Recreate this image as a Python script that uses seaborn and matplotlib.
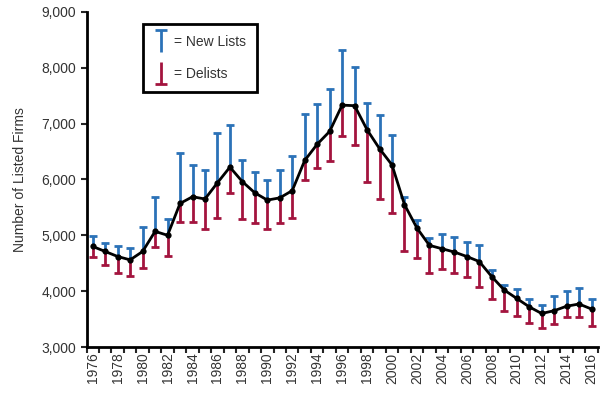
import numpy as np
import pandas as pd
import seaborn as sns
import matplotlib.pyplot as plt
from matplotlib.lines import Line2D
from matplotlib.path import Path
from matplotlib.ticker import FuncFormatter

years = list(range(1976, 2017))
listed = [4800, 4710, 4620, 4560, 4710, 5070, 5000, 5570, 5690, 5650,
          5940, 6220, 5960, 5760, 5630, 5670, 5800, 6340, 6630, 6860,
          7330, 7320, 6890, 6550, 6260, 5550, 5130, 4820, 4760, 4700,
          4620, 4530, 4260, 4020, 3870, 3720, 3600, 3650, 3730, 3770, 3680]
new_lists = [190, 160, 195, 220, 430, 620, 290, 900, 570, 520,
             900, 750, 380, 370, 355, 490, 620, 840, 720, 755,
             985, 690, 475, 595, 530, 140, 145, 140, 260, 265,
             260, 300, 110, 85, 165, 135, 150, 270, 275, 280, 175]
delists = [185, 245, 300, 290, 295, 275, 365, 325, 455, 545,
           635, 470, 675, 545, 510, 455, 495, 345, 420, 535,
           550, 700, 935, 905, 855, 830, 540, 490, 370, 380,
           365, 450, 395, 375, 315, 295, 265, 240, 185, 225, 300]

sns.set_style("ticks")
plt.rcParams['font.family'] = ['Liberation Sans', 'DejaVu Sans']
text_color = '#333333'

df = pd.DataFrame({'Year': years, 'Listed': listed,
                   'New': new_lists, 'Delists': delists})

blue = '#2b72b8'
red = '#a3143e'

fig = plt.figure(figsize=(6.05, 3.95), dpi=100)
ax = fig.add_axes([0.143, 0.1215, 0.845, 0.8485])

zeros = np.zeros(len(df))
eb = ax.errorbar(df['Year'], df['Listed'], yerr=[zeros, df['New']], fmt='none',
                 ecolor=blue, elinewidth=2, capsize=3, capthick=2)
eb[1][0].remove()  # drop cap sitting on the line
eb = ax.errorbar(df['Year'], df['Listed'], yerr=[df['Delists'], zeros], fmt='none',
                 ecolor=red, elinewidth=2, capsize=3, capthick=2)
eb[1][1].remove()

sns.lineplot(data=df, x='Year', y='Listed', ax=ax, color='black', linewidth=2,
             marker='o', markersize=4.5, markeredgewidth=0)

ax.set_xlim(1975.5, 2016.5)
ax.set_ylim(3000, 9000)
ax.set_xticks(np.arange(1975.5, 2017, 1))
ax.set_xticklabels([])
ax.set_xticks([y for y in years if y % 2 == 0], minor=True)
ax.set_xticklabels([str(y) for y in years if y % 2 == 0], minor=True,
                   rotation=90, fontsize=10, color=text_color)
ax.tick_params(axis='x', which='major', length=4, width=1.5, direction='out')
ax.tick_params(axis='x', which='minor', length=0, pad=4)
ax.set_yticks(range(3000, 9001, 1000))
ax.yaxis.set_major_formatter(FuncFormatter(lambda v, p: f'{int(v):,}'))
ax.tick_params(axis='y', length=4, width=1.5, direction='out',
               labelsize=10, labelcolor=text_color)
ax.set_xlabel('')
ax.set_ylabel('Number of Listed Firms', fontsize=10, color=text_color, labelpad=10)

sns.despine(ax=ax)
for s in ['left', 'bottom']:
    ax.spines[s].set_linewidth(2)
    ax.spines[s].set_color('black')

# legend glyphs: T for new lists, inverted T for delists
t_path = Path([(-0.5, 1), (0.5, 1), (0, 1), (0, -1)],
              [Path.MOVETO, Path.LINETO, Path.MOVETO, Path.LINETO])
b_path = Path([(-0.5, -1), (0.5, -1), (0, -1), (0, 1)],
              [Path.MOVETO, Path.LINETO, Path.MOVETO, Path.LINETO])
handles = [
    Line2D([], [], linestyle='None', marker=t_path, markersize=16,
           markeredgecolor=blue, markerfacecolor='none', markeredgewidth=2),
    Line2D([], [], linestyle='None', marker=b_path, markersize=16,
           markeredgecolor=red, markerfacecolor='none', markeredgewidth=2),
]
leg = ax.legend(handles, ['= New Lists', '= Delists'], loc='upper left',
                bbox_to_anchor=(0.11, 0.964), borderaxespad=0, fancybox=False,
                framealpha=1, edgecolor='black', fontsize=10, numpoints=1,
                handlelength=1.0, labelspacing=1.31, borderpad=0.78,
                handletextpad=0.45, labelcolor=text_color)
leg.get_frame().set_linewidth(2)

plt.savefig('out.png', dpi=100)
